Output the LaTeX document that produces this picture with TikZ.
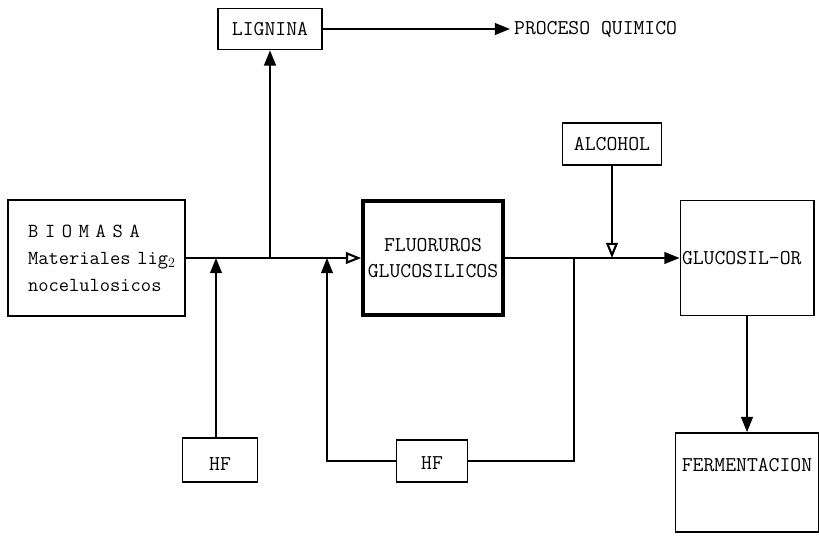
\documentclass[tikz,border=0pt]{standalone}
\usepackage{amsmath}
\usepackage{tikz}
\usetikzlibrary{arrows.meta,positioning}

\begin{document}
\begin{tikzpicture}[x=0.03cm, y=-0.03cm,
    box/.style={draw, line width=1.4pt, align=center, font=\ttfamily\fontsize{18}{22}\selectfont, inner sep=2pt},
    lbl/.style={font=\ttfamily\fontsize{18}{22}\selectfont},
    arr/.style={-{Triangle[length=13pt,width=10pt]}, line width=1.8pt},
    arro/.style={-{Triangle[open,length=13pt,width=10pt]}, line width=1.8pt},
    flow/.style={line width=1.8pt}
]
\useasboundingbox (0,0) rectangle (819,542);

\node[box, font=\ttfamily\fontsize{17}{23}\selectfont, text width=4.1cm, inner xsep=0.6cm, align=left, minimum height=3.48cm] (bio) at (96.5,258) {B I O M A S A\\Materiales~lig$_{2}$\\nocelulosicos};
\node[box, minimum width=3.12cm, minimum height=1.23cm] (lig) at (270,29) {LIGNINA};
\node[lbl, anchor=west] (proc) at (510,29) {PROCESO QUIMICO};
\node[box, line width=3.2pt, minimum width=4.2cm, minimum height=3.42cm] (flu) at (433,258) {FLUORUROS\\GLUCOSILICOS};
\node[box, minimum width=2.25cm, minimum height=1.32cm, text height=0.6cm, text depth=0pt] (hf1) at (220,460) {HF};
\node[box, minimum width=2.13cm, minimum height=1.26cm, text height=0.5cm, text depth=0pt] (hf2) at (432,461) {HF};
\node[box, minimum width=2.97cm, minimum height=1.26cm] (alc) at (612,144) {ALCOHOL};
\node[box, text width=3.9cm, inner xsep=0.05cm, align=left, minimum height=3.45cm] (glu) at (747,258) {GLUCOSIL-OR};
\node[box, minimum width=4.29cm, minimum height=2.97cm, text height=0.35cm, text depth=1.0cm] (fer) at (747,482.5) {FERMENTACION};

% puntos de union sobre la linea principal
\coordinate (j1) at (216,258);
\coordinate (j2) at (270,258);
\coordinate (j3) at (327,258);
\coordinate (j4) at (574,258);
\coordinate (j5) at (612,258);

\draw[arro] (bio.east) -- (flu.west);
\draw[arr] (j2) -- (lig.south);
\draw[arr] (lig.east) -- (proc.west);
\draw[arr] (j1 |- hf1.north) -- (j1);
\draw[flow] (j4) |- (hf2.east);
\draw[arr] (hf2.west) -| (j3);
\draw[arr] (flu.east) -- (glu.west);
\draw[arro] (alc.south) -- (j5);
\draw[arr] (glu.south) -- (fer.north);
\end{tikzpicture}
\end{document}
